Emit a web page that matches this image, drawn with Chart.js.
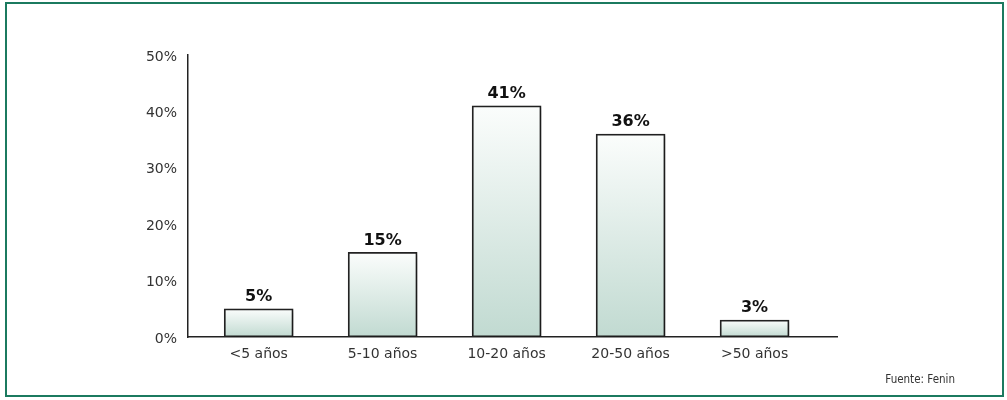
<!DOCTYPE html>
<html>
<head>
<meta charset="utf-8">
<script src="https://cdn.jsdelivr.net/npm/chart.js@4"></script>
<style>
  html, body { margin: 0; padding: 0; background: #fff; }
  #marco {
    position: absolute; left: 5px; top: 2px;
    width: 995px; height: 391px;
    border: 2px solid #1b7a5f;
  }
  #wrap { position: absolute; left: 0; top: 0; width: 1007px; height: 400px; }
</style>
</head>
<body>
<div id="marco"></div>
<div id="wrap"><canvas id="grafica"></canvas></div>
<script>
// Datos
var categorias = ['<5 años', '5-10 años', '10-20 años', '20-50 años', '>50 años'];
var porcentajes = [5, 15, 41, 36, 3];
var ticksY = [0, 10, 20, 30, 40, 50];
var fuente = 'Fuente: Fenin';

var fuenteTexto = '"DejaVu Sans", sans-serif';

// Degradado por barra (blanco arriba, verde claro abajo)
function rellenoBarra(context) {
    var chart = context.chart;
    var y = chart.scales.y;
    if (!y || context.raw == null) return '#dcebe5';
    var top = y.getPixelForValue(context.raw.y);
    var base = y.getPixelForValue(0);
    if (!isFinite(top) || !isFinite(base) || top === base) return '#dcebe5';
    var g = chart.ctx.createLinearGradient(0, top, 0, base);
    g.addColorStop(0, '#fbfdfc');
    g.addColorStop(1, '#c1dad1');
    return g;
}

// Sombra de las barras
var sombra = {
    id: 'sombra',
    beforeDatasetsDraw: function (chart) {
        var ctx = chart.ctx;
        ctx.save();
        ctx.shadowColor = 'rgba(0,0,0,0.28)';
        ctx.shadowBlur = 5;
        ctx.shadowOffsetX = 3;
        ctx.shadowOffsetY = 2;
    },
    afterDatasetsDraw: function (chart) {
        chart.ctx.restore();
    }
};

// Etiquetas de valor y fuente
var etiquetas = {
    id: 'etiquetas',
    afterDraw: function (chart) {
        var ctx = chart.ctx;
        var meta = chart.getDatasetMeta(0);
        ctx.save();
        ctx.fillStyle = '#111';
        ctx.font = 'bold 16px ' + fuenteTexto;
        ctx.textAlign = 'center';
        ctx.textBaseline = 'bottom';
        meta.data.forEach(function (bar, i) {
            ctx.fillText(porcentajes[i] + '%', bar.x, bar.y - 4);
        });
        ctx.font = '11.5px "DejaVu Sans Condensed", "DejaVu Sans", sans-serif';
        ctx.fillStyle = '#333';
        ctx.textAlign = 'right';
        ctx.textBaseline = 'middle';
        ctx.fillText(fuente, 955, 380);
        ctx.restore();
    }
};

var ctx = document.getElementById('grafica').getContext('2d');
var grafica = new Chart(ctx, {
    type: 'bar',
    data: {
        datasets: [{
            data: porcentajes.map(function (v, i) { return { x: i, y: v }; }),
            backgroundColor: rellenoBarra,
            borderColor: '#222',
            borderWidth: 1.8,
            borderSkipped: false,
            barThickness: 69
        }]
    },
    options: {
        responsive: true,
        maintainAspectRatio: false,
        animation: false,
        layout: { padding: { top: 55, right: 170, bottom: 0, left: 0 } },
        scales: {
            x: {
                type: 'linear',
                min: -0.57,
                max: 4.665,
                offset: false,
                grid: { display: false, drawTicks: false },
                border: { display: true, color: '#222', width: 1.5 },
                afterBuildTicks: function (scale) {
                    scale.ticks = categorias.map(function (c, i) { return { value: i }; });
                },
                ticks: {
                    padding: 9,
                    color: '#333',
                    font: { family: fuenteTexto, size: 14 },
                    callback: function (v) { return categorias[v]; }
                },
                afterFit: function (scale) { scale.height = 63; }
            },
            y: {
                min: 0,
                max: 50,
                grid: { display: false, drawTicks: false },
                border: { display: true, color: '#222', width: 1.5 },
                afterBuildTicks: function (scale) {
                    scale.ticks = ticksY.map(function (t) { return { value: t }; });
                },
                ticks: {
                    padding: 11,
                    labelOffset: 2,
                    color: '#333',
                    font: { family: fuenteTexto, size: 14 },
                    callback: function (v) { return v + '%'; }
                },
                afterFit: function (scale) { scale.width = 188; }
            }
        },
        plugins: {
            legend: { display: false },
            tooltip: { enabled: false }
        }
    },
    plugins: [sombra, etiquetas]
});
</script>
</body>
</html>
